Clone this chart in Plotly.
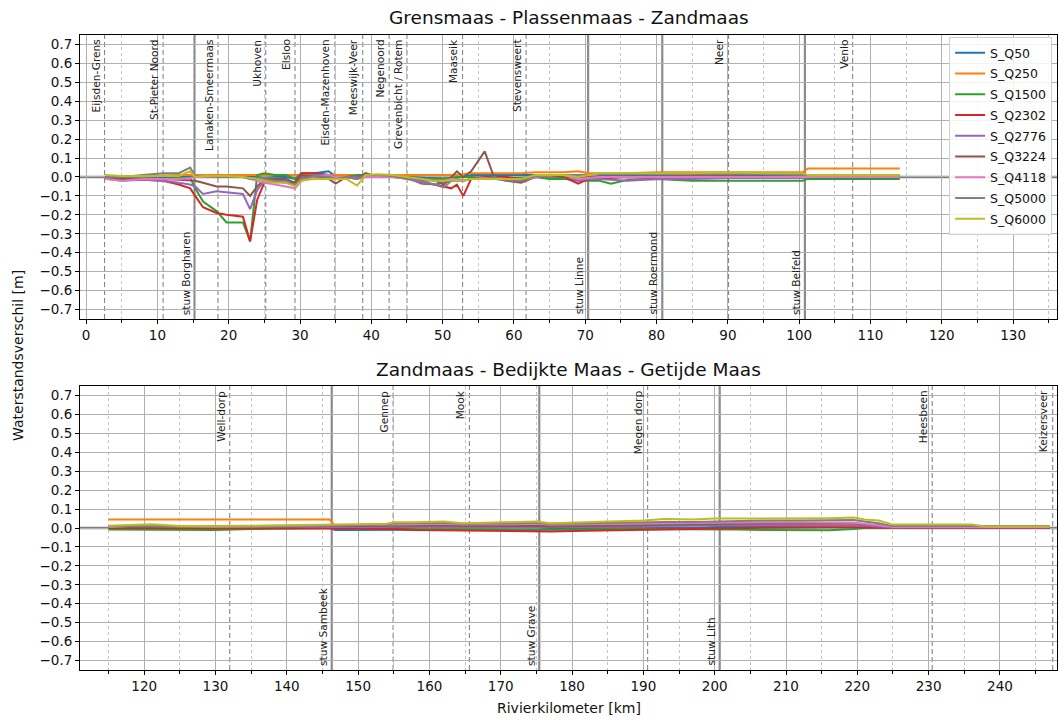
import plotly.graph_objects as go

# ---------------- data ----------------
series_names = ["S_Q50", "S_Q250", "S_Q1500", "S_Q2302", "S_Q2776",
                "S_Q3224", "S_Q4118", "S_Q5000", "S_Q6000"]
series_colors = ["#1f77b4", "#ff7f0e", "#2ca02c", "#d62728", "#9467bd",
                 "#8c564b", "#e377c2", "#7f7f7f", "#bcbd22"]

km_top = [2.7, 5, 8, 10.8, 13, 14.6, 15.3, 16.4, 18.3, 19.7, 22, 23, 24, 25, 26.5,
          28, 29.3, 30.2, 32, 34, 35, 36.5, 38, 39.2, 41, 43, 45, 47, 49, 50.2,
          51.2, 52, 52.9, 54, 55.9, 57.2, 59, 61, 63, 65, 67, 69, 70.5, 72, 73.6,
          76, 80, 85, 90, 95, 100.5, 101.2, 105, 110, 114.1]

top_Q50 = [0, -0.01, -0.01, -0.005, 0, 0, 0.005, 0.005, 0.005, 0.005, 0.005, 0.005, 0.005, 0.01, 0.005,
           0, -0.01, 0.01, 0.02, 0.03, 0.005, 0, 0.01, 0.01, 0.01, 0.005, 0, -0.005, -0.01, -0.01,
           -0.01, 0.0, 0.0, 0.01, 0.01, 0.01, 0.01, 0.01, 0.01, 0.01, 0.01, 0.005, 0.0, 0.005, 0.005,
           0.005, 0.005, 0.005, 0.005, 0.005, 0.005, 0.005, 0.005, 0.005, 0.005]
top_Q250 = [0, 0.005, 0.005, 0.01, 0.01, 0.01, 0.01, 0.01, 0.01, 0.01, 0.01, 0.01, 0.01, 0.01, 0.01,
            0.01, 0.01, 0.01, 0.01, 0.01, 0.01, 0.01, 0.01, 0.01, 0.01, 0.01, 0.01, 0.01, 0.01, 0.01,
            0.01, 0.01, 0.015, 0.02, 0.02, 0.02, 0.02, 0.02, 0.025, 0.025, 0.025, 0.03, 0.02, 0.02, 0.02,
            0.02, 0.025, 0.025, 0.025, 0.025, 0.025, 0.045, 0.045, 0.045, 0.045]
top_Q1500 = [-0.005, -0.01, -0.01, -0.01, -0.005, -0.005, -0.06, -0.13, -0.18, -0.24, -0.24, -0.34, 0.01, 0.02, 0.01,
             0.01, -0.01, 0.02, 0.02, 0.01, 0.0, 0.0, 0.01, 0.01, 0.005, 0.0, 0.0, -0.01, -0.01, -0.01,
             -0.005, 0, 0, 0, -0.005, -0.01, -0.01, -0.005, 0.0, -0.01, -0.01, -0.02, -0.02, -0.02, -0.035,
             -0.015, -0.01, -0.02, -0.02, -0.02, -0.02, -0.01, -0.01, -0.01, -0.01]
top_Q2302 = [0, -0.01, -0.015, -0.02, -0.04, -0.06, -0.1, -0.16, -0.19, -0.2, -0.21, -0.34, -0.12, -0.03, -0.02,
             -0.02, -0.03, 0.02, 0.02, 0.01, 0.0, 0.0, 0.0, 0.01, 0.005, 0.0, 0.0, -0.035, -0.04, -0.05,
             -0.06, -0.04, -0.1, -0.01, 0.0, 0.0, 0.0, -0.01, 0.0, 0.01, 0.0, -0.035, -0.01, -0.005, -0.005,
             0.0, -0.005, -0.005, -0.005, -0.005, -0.005, 0.0, 0.0, 0.0, 0.0]
top_Q2776 = [-0.01, -0.02, -0.015, -0.02, -0.03, -0.04, -0.05, -0.09, -0.075, -0.08, -0.09, -0.17, -0.07, -0.02, -0.02,
             -0.02, -0.04, 0.0, 0.01, 0.01, -0.01, 0.0, 0.0, 0.01, 0.005, 0.0, -0.01, -0.03, -0.04, -0.03,
             -0.02, -0.02, -0.02, -0.01, -0.01, -0.01, -0.02, -0.02, 0.0, 0.01, 0.01, -0.02, -0.01, -0.01, -0.015,
             -0.02, -0.01, -0.01, -0.005, -0.005, -0.005, 0.0, 0.0, 0.0, 0.0]
top_Q3224 = [0, -0.01, -0.01, -0.01, -0.015, -0.02, -0.02, -0.03, -0.05, -0.05, -0.06, -0.1, -0.05, -0.01, -0.01,
             -0.01, -0.03, 0.01, 0.0, -0.01, -0.035, 0.0, -0.01, 0.02, 0.0, 0.0, 0.0, -0.01, -0.02, -0.04,
             0.0, 0.03, 0.0, 0.03, 0.135, 0.0, -0.02, -0.03, 0.0, 0.01, 0.0, 0.0, 0.0, 0.0, 0.0,
             0.0, 0.0, 0.005, 0.005, 0.0, 0.0, 0.0, 0.0, 0.0, 0.0]
top_Q4118 = [-0.01, -0.02, -0.01, -0.01, -0.01, -0.005, 0.0, 0.0, 0.0, 0.0, 0.0, -0.01, -0.02, -0.03, -0.04,
             -0.05, -0.06, -0.02, 0.0, 0.01, 0.0, 0.0, -0.01, 0.0, 0.0, 0.0, -0.01, -0.02, -0.02, -0.02,
             -0.01, -0.01, -0.02, -0.01, -0.005, -0.005, -0.01, -0.02, 0.0, 0.01, 0.01, -0.01, -0.005, 0.0, 0.0,
             0.0, 0.0, 0.0, 0.0, 0.0, 0.0, 0.0, 0.0, 0.0, 0.0]
top_Q5000 = [0, 0.0, 0.01, 0.02, 0.02, 0.05, 0.005, 0.005, 0.0, 0.0, 0.0, -0.01, -0.01, -0.01, -0.02,
             -0.03, -0.04, -0.01, 0.005, 0.0, -0.01, 0.0, -0.01, 0.01, 0.01, 0.005, -0.01, -0.02, -0.04, -0.055,
             -0.02, -0.01, -0.02, -0.01, -0.01, 0.0, -0.02, -0.02, 0.005, 0.01, 0.01, 0.01, 0.01, 0.015, 0.015,
             0.015, 0.015, 0.015, 0.015, 0.015, 0.01, 0.01, 0.01, 0.01, 0.01]
top_Q6000 = [0.01, 0.005, 0.005, 0.005, 0.005, 0.03, 0.0, 0.005, 0.005, 0.005, 0.0, -0.005, -0.01, -0.02, -0.03,
             -0.03, -0.05, -0.02, -0.01, -0.01, -0.01, -0.01, -0.045, 0.01, 0.015, 0.01, 0.0, -0.01, -0.02, -0.02,
             -0.015, -0.015, -0.02, -0.01, -0.01, -0.01, -0.01, -0.01, 0.01, 0.01, 0.01, 0.0, 0.01, 0.02, 0.02,
             0.02, 0.02, 0.02, 0.025, 0.02, 0.02, 0.01, 0.01, 0.01, 0.01]

km_bot = [115, 118, 121, 125, 130, 135, 140, 146, 146.8, 150, 154, 155, 158, 162, 164.7,
          168, 172, 175, 177, 182, 186, 190, 193, 197, 200, 203, 207, 212, 216, 219.5,
          221, 223, 225, 229, 233, 236, 238, 242, 247]

bot_Q50 = [0, 0, 0, 0, 0, 0, 0, 0, -0.01, -0.01, -0.01, -0.01, -0.01, -0.008, -0.008,
           -0.008, -0.008, -0.008, -0.005, -0.005, -0.005, -0.003, 0, 0, 0.005, 0.005, 0.008, 0.008, 0.008, 0.008,
           0.006, 0.004, 0.002, 0, 0, 0, 0, 0, 0]
bot_Q250 = [0.045, 0.045, 0.045, 0.045, 0.045, 0.045, 0.045, 0.045, 0.01, 0.01, 0.012, 0.015, 0.015, 0.012, 0.012,
            0.012, 0.012, 0.01, 0.012, 0.012, 0.015, 0.015, 0.02, 0.02, 0.02, 0.02, 0.02, 0.02, 0.02, 0.02,
            0.015, 0.01, 0.005, 0.005, 0.005, 0.005, 0.005, 0.005, 0.005]
bot_Q1500 = [-0.008, -0.008, -0.008, -0.008, -0.01, -0.005, -0.002, 0.0, 0.0, 0.0, 0.0, 0.0, -0.005, -0.005, -0.008,
             -0.008, -0.01, -0.01, -0.01, -0.008, -0.005, -0.005, -0.008, -0.005, -0.005, -0.008, -0.01, -0.012, -0.012, -0.005,
             0.0, 0.0, 0.0, 0.0, 0.0, 0.0, 0.0, 0.0, 0.0]
bot_Q2302 = [0.0, 0.0, -0.002, -0.002, 0.0, 0.0, 0.0, 0.0, 0.0, -0.002, -0.005, -0.005, -0.01, -0.012, -0.012,
             -0.015, -0.015, -0.018, -0.018, -0.015, -0.012, -0.01, -0.008, -0.005, -0.003, 0.0, 0.002, 0.003, 0.005, 0.005,
             0.003, 0.002, 0.0, 0.0, 0.0, 0.0, 0.0, 0.0, 0.0]
bot_Q2776 = [0.005, 0.005, 0.005, 0.002, 0.002, 0.005, 0.005, 0.005, 0.005, 0.005, 0.005, 0.01, 0.008, 0.008, 0.005,
             0.005, 0.005, 0.005, 0.005, 0.005, 0.008, 0.01, 0.01, 0.012, 0.015, 0.015, 0.015, 0.015, 0.015, 0.015,
             0.012, 0.008, 0.003, 0.003, 0.003, 0.003, 0.003, 0.003, 0.003]
bot_Q3224 = [0.005, 0.008, 0.008, 0.005, 0.005, 0.005, 0.008, 0.01, 0.01, 0.01, 0.012, 0.015, 0.012, 0.015, 0.01,
             0.01, 0.01, 0.012, 0.008, 0.01, 0.012, 0.015, 0.015, 0.018, 0.02, 0.022, 0.025, 0.025, 0.025, 0.025,
             0.02, 0.015, 0.005, 0.005, 0.005, 0.005, 0.005, 0.005, 0.005]
bot_Q4118 = [0.005, 0.01, 0.01, 0.008, 0.005, 0.008, 0.01, 0.012, 0.012, 0.012, 0.015, 0.018, 0.02, 0.022, 0.018,
             0.018, 0.02, 0.022, 0.018, 0.02, 0.022, 0.022, 0.025, 0.025, 0.028, 0.03, 0.03, 0.03, 0.03, 0.028,
             0.022, 0.015, 0.005, 0.005, 0.005, 0.005, 0.005, 0.005, 0.005]
bot_Q5000 = [0.01, 0.012, 0.012, 0.008, 0.008, 0.01, 0.012, 0.015, 0.015, 0.015, 0.018, 0.025, 0.025, 0.028, 0.022,
             0.022, 0.025, 0.028, 0.022, 0.025, 0.028, 0.03, 0.032, 0.032, 0.035, 0.038, 0.04, 0.04, 0.042, 0.042,
             0.035, 0.025, 0.01, 0.01, 0.01, 0.01, 0.01, 0.01, 0.01]
bot_Q6000 = [0.012, 0.018, 0.02, 0.01, 0.01, 0.012, 0.015, 0.018, 0.018, 0.018, 0.022, 0.03, 0.03, 0.035, 0.025,
             0.028, 0.032, 0.035, 0.025, 0.03, 0.035, 0.04, 0.048, 0.045, 0.05, 0.05, 0.05, 0.05, 0.052, 0.055,
             0.045, 0.04, 0.018, 0.018, 0.018, 0.018, 0.008, 0.008, 0.008]

top_series = [top_Q50, top_Q250, top_Q1500, top_Q2302, top_Q2776, top_Q3224, top_Q4118, top_Q5000, top_Q6000]
bot_series = [bot_Q50, bot_Q250, bot_Q1500, bot_Q2302, bot_Q2776, bot_Q3224, bot_Q4118, bot_Q5000, bot_Q6000]

# locations (dashed) and weirs (solid)
top_loc_names = ["Eijsden-Grens", "St-Pieter Noord", "Lanaken-Smeermaas", "Ukhoven", "Elsloo",
                 "Eisden-Mazenhoven", "Meeswijk-Veer", "Negenoord", "Grevenbicht / Rotem",
                 "Maaseik", "Stevensweert", "Neer", "Venlo"]
top_loc_km = [2.6, 10.8, 18.5, 25.2, 29.3, 34.9, 38.8, 42.5, 45.0, 52.8, 61.7, 90.1, 107.5]
top_weir_names = ["stuw Borgharen", "stuw Linne", "stuw Roermond", "stuw Belfeld"]
top_weir_km = [15.2, 70.4, 80.8, 100.8]

bot_loc_names = ["Well-dorp", "Gennep", "Mook", "Megen dorp", "Heesbeen", "Keizersveer"]
bot_loc_km = [132.0, 154.9, 165.6, 190.6, 230.5, 247.4]
bot_weir_names = ["stuw Sambeek", "stuw Grave", "stuw Lith"]
bot_weir_km = [146.3, 175.4, 200.7]

y_ticks = [-0.7, -0.6, -0.5, -0.4, -0.3, -0.2, -0.1, 0.0, 0.1, 0.2, 0.3, 0.4, 0.5, 0.6, 0.7]
top_xticks = list(range(0, 131, 10))
bot_xticks = list(range(120, 241, 10))

# ---------------- figure ----------------
FONT = "DejaVu Sans"
fig = go.Figure()

for name, color, ys in zip(series_names, series_colors, top_series):
    fig.add_trace(go.Scatter(x=km_top, y=ys, mode="lines", name=name, legendgroup=name,
                             line=dict(color=color, width=2), xaxis="x", yaxis="y"))
for name, color, ys in zip(series_names, series_colors, bot_series):
    fig.add_trace(go.Scatter(x=km_bot, y=ys, mode="lines", name=name, legendgroup=name,
                             showlegend=False,
                             line=dict(color=color, width=2), xaxis="x2", yaxis="y2"))

shapes = []
annotations = []


def add_panel_marks(xr, yr, loc_names, loc_km, weir_names, weir_km):
    shapes.append(dict(type="line", xref=xr + " domain", yref=yr, x0=0, x1=1, y0=0, y1=0,
                       line=dict(color="#808080", width=2.5), layer="below"))
    for n, k in zip(loc_names, loc_km):
        shapes.append(dict(type="line", xref=xr, yref=yr + " domain", x0=k, x1=k, y0=0, y1=1,
                           line=dict(color="#7a7a7a", width=1, dash="5px,3px"), layer="below"))
        annotations.append(dict(text=n, x=k, y=0.737, xref=xr, yref=yr, textangle=-90,
                                xanchor="right", yanchor="top", showarrow=False, xshift=-1,
                                font=dict(family=FONT, size=10.6, color="#222")))
    for n, k in zip(weir_names, weir_km):
        shapes.append(dict(type="line", xref=xr, yref=yr + " domain", x0=k, x1=k, y0=0, y1=1,
                           line=dict(color="#8c8c8c", width=2.2), layer="below"))
        annotations.append(dict(text=n, x=k, y=-0.738, xref=xr, yref=yr, textangle=-90,
                                xanchor="right", yanchor="bottom", showarrow=False, xshift=-1,
                                font=dict(family=FONT, size=10.6, color="#222")))


add_panel_marks("x", "y", top_loc_names, top_loc_km, top_weir_names, top_weir_km)
add_panel_marks("x2", "y2", bot_loc_names, bot_loc_km, bot_weir_names, bot_weir_km)

annotations += [
    dict(text="Grensmaas - Plassenmaas - Zandmaas", x=0.5, y=1.027, xref="paper", yref="paper",
         showarrow=False, xanchor="center", yanchor="middle", font=dict(family=FONT, size=18.5, color="#111")),
    dict(text="Zandmaas - Bedijkte Maas - Getijde Maas", x=0.5, y=0.4725, xref="paper", yref="paper",
         showarrow=False, xanchor="center", yanchor="middle", font=dict(family=FONT, size=18.5, color="#111")),
    dict(text="Waterstandsverschil [m]", x=-0.0635, y=0.496, xref="paper", yref="paper", textangle=-90,
         showarrow=False, xanchor="center", yanchor="middle", font=dict(family=FONT, size=14, color="#111")),
    dict(text="Rivierkilometer [km]", x=0.5, y=-0.06, xref="paper", yref="paper",
         showarrow=False, xanchor="center", yanchor="middle", font=dict(family=FONT, size=14, color="#111")),
]

axis_common = dict(showline=True, linecolor="black", linewidth=1, mirror=True,
                   ticks="outside", ticklen=4, tickcolor="black",
                   showgrid=True, gridcolor="#b0b0b0", gridwidth=1, zeroline=False,
                   tickfont=dict(family=FONT, size=13.5, color="#111"))
xminor = dict(dtick=5, showgrid=True, griddash="dot", gridcolor="#c4c4c4", gridwidth=1,
              ticks="outside", ticklen=3, tickcolor="black")

fig.update_layout(
    width=1059, height=720,
    margin=dict(l=80, r=2, t=35, b=50),
    paper_bgcolor="white", plot_bgcolor="white",
    font=dict(family=FONT, color="#111"),
    xaxis=dict(axis_common, domain=[0, 1], anchor="y", range=[-0.85, 136.15],
               tickvals=top_xticks, minor=xminor),
    yaxis=dict(axis_common, domain=[0.5528, 1], anchor="x", range=[-0.75, 0.75],
               tickvals=y_ticks, ticktext=[f"{v:.1f}".replace("-", "\u2212") for v in y_ticks]),
    xaxis2=dict(axis_common, domain=[0, 1], anchor="y2", range=[111.0, 248.0],
                tickvals=bot_xticks, minor=xminor),
    yaxis2=dict(axis_common, domain=[0, 0.4472], anchor="x2", range=[-0.75, 0.75],
                tickvals=y_ticks, ticktext=[f"{v:.1f}".replace("-", "\u2212") for v in y_ticks]),
    shapes=shapes,
    annotations=annotations,
    showlegend=True,
    legend=dict(x=0.995, y=0.9966, xanchor="right", yanchor="top",
                bgcolor="rgba(255,255,255,0.85)", bordercolor="#d0d0d0", borderwidth=1,
                font=dict(family=FONT, size=12.5, color="#111"), tracegroupgap=1.5,
                itemwidth=30),
)

fig.write_html("out.html")
